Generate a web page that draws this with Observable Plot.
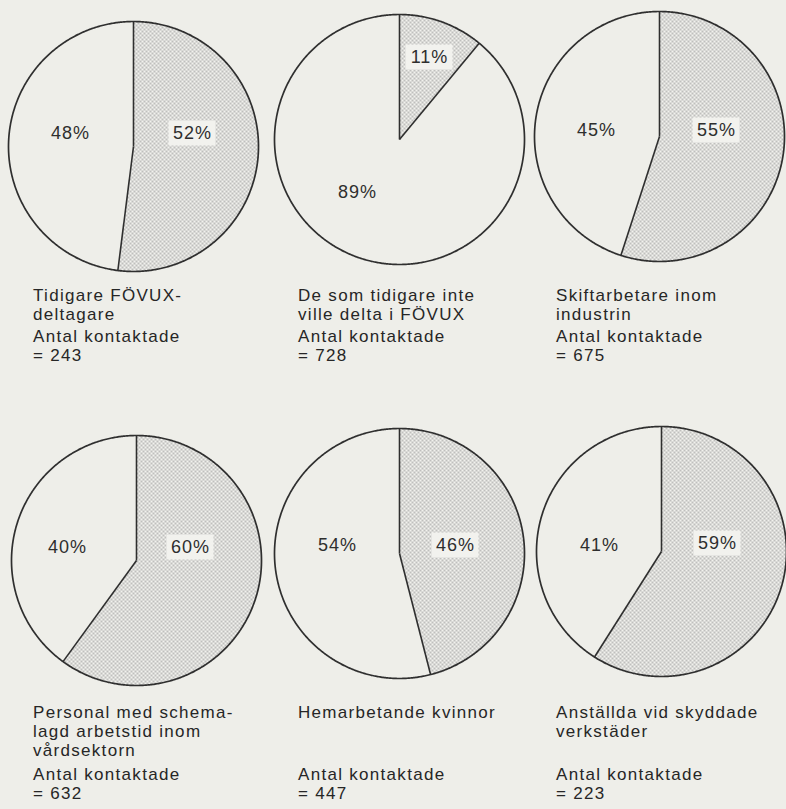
<!DOCTYPE html>
<html><head><meta charset="utf-8">
<script src="https://cdn.jsdelivr.net/npm/d3@7"></script>
<script src="https://cdn.jsdelivr.net/npm/@observablehq/plot@0.6"></script>
<style>
html,body{margin:0;padding:0;background:#eeeee9;}
#page{position:relative;width:786px;height:809px;overflow:hidden;font-family:"Liberation Sans",Arial,sans-serif;color:#262626;}
.pie{position:absolute;}
.pie text{letter-spacing:1px;}
.cap{position:absolute;font-size:17px;line-height:19px;letter-spacing:1.3px;white-space:nowrap;}
</style></head><body>
<svg width="0" height="0" style="position:absolute">
<defs><pattern id="dots" width="4" height="4" patternUnits="userSpaceOnUse">
<rect width="4" height="4" fill="#f2f2ee"/>
<circle cx="1" cy="1" r="0.8" fill="#7e7e7e"/>
<circle cx="3" cy="3" r="0.8" fill="#7e7e7e"/>
</pattern></defs></svg>
<div id="page"></div>
<script>
// ---- data ----
const groupLines = [
  ["Tidigare FÖVUX-", "deltagare"],
  ["De som tidigare inte", "ville delta i FÖVUX"],
  ["Skiftarbetare inom", "industrin"],
  ["Personal med schema-", "lagd arbetstid inom", "vårdsektorn"],
  ["Hemarbetande kvinnor"],
  ["Anställda vid skyddade", "verkstäder"]
];
const shadedPct = [52, 11, 55, 60, 46, 59];
const plainPct  = [48, 89, 45, 40, 54, 41];
const contacted = [243, 728, 675, 632, 447, 223];
const countLabel = "Antal kontaktade";

// ---- layout ----
const centers = [[133,146],[399,139],[659,136],[136,560],[399,553],[661,551]];
const R = 125, S = 130, K = S / R;
// annotation placement (px from pie centre): [shaded label, plain label]
const labelOffsets = [
  [[59,-13],[-63,-13]],
  [[30,-82],[-42,53]],
  [[57,-6],[-63,-6]],
  [[54,-13],[-69,-13]],
  [[56,-8],[-62,-8]],
  [[56,-8],[-62,-6]]
];
const colX = [33, 298, 556];
const capTop = [286, 703], countTop = [327, 765];

const page = document.getElementById("page");
const rad = a => a * Math.PI / 180;
function arcPoints(a0, a1, closed) {
  const pts = closed ? [{x:0, y:0}] : [];
  const n = Math.max(2, Math.ceil((a1 - a0) / 0.5));
  for (let i = 0; i <= n; i++) {
    const a = rad(a0 + (a1 - a0) * i / n);
    pts.push({x: Math.sin(a), y: Math.cos(a)});
  }
  if (closed) pts.push({x:0, y:0});
  return pts;
}

shadedPct.forEach((s, i) => {
  const sA = s / 100 * 360;
  const shaded = arcPoints(0, sA, true);
  const plain = arcPoints(sA, 360, true);
  const outline = arcPoints(0, 360, false);
  const radii = [0, sA].map(a => ({x: Math.sin(rad(a)), y: Math.cos(rad(a))}));
  const labels = [
    {text: s + "%", off: labelOffsets[i][0], shaded: true},
    {text: plainPct[i] + "%", off: labelOffsets[i][1], shaded: false}
  ].map(d => ({...d, x: d.off[0] / R, y: -d.off[1] / R}));
  const bw = 23.5 / R, bh = 12.5 / R;

  const chart = Plot.plot({
    width: 2 * S, height: 2 * S, margin: 0,
    x: {domain: [-K, K], axis: null},
    y: {domain: [-K, K], axis: null},
    style: {background: "transparent", overflow: "visible"},
    marks: [
      Plot.line(plain, {x: "x", y: "y", fill: "#eeeee9", stroke: "none"}),
      Plot.line(shaded, {x: "x", y: "y", fill: "url(#dots)", stroke: "none"}),
      Plot.link(radii, {x1: 0, y1: 0, x2: "x", y2: "y", stroke: "#2f2f2f", strokeWidth: 1.6}),
      Plot.line(outline, {x: "x", y: "y", stroke: "#2f2f2f", strokeWidth: 1.7}),
      Plot.rect(labels.filter(d => d.shaded), {x1: d => d.x - bw, x2: d => d.x + bw, y1: d => d.y - bh, y2: d => d.y + bh, fill: "#f2f2ee"}),
      Plot.text(labels, {x: "x", y: "y", text: "text", fontSize: 18, fill: "#2e2e2e", fontFamily: "Liberation Sans, Arial, sans-serif"})
    ]
  });
  chart.classList.add("pie");
  chart.style.left = (centers[i][0] - S) + "px";
  chart.style.top = (centers[i][1] - S) + "px";
  page.appendChild(chart);

  const col = i % 3, row = Math.floor(i / 3);
  const cap = document.createElement("div");
  cap.className = "cap";
  cap.style.left = colX[col] + "px";
  cap.style.top = capTop[row] + "px";
  cap.innerHTML = groupLines[i].join("<br>");
  page.appendChild(cap);
  const cnt = document.createElement("div");
  cnt.className = "cap";
  cnt.style.left = colX[col] + "px";
  cnt.style.top = countTop[row] + "px";
  cnt.innerHTML = countLabel + "<br>= " + contacted[i];
  page.appendChild(cnt);
});
</script>
</body></html>
